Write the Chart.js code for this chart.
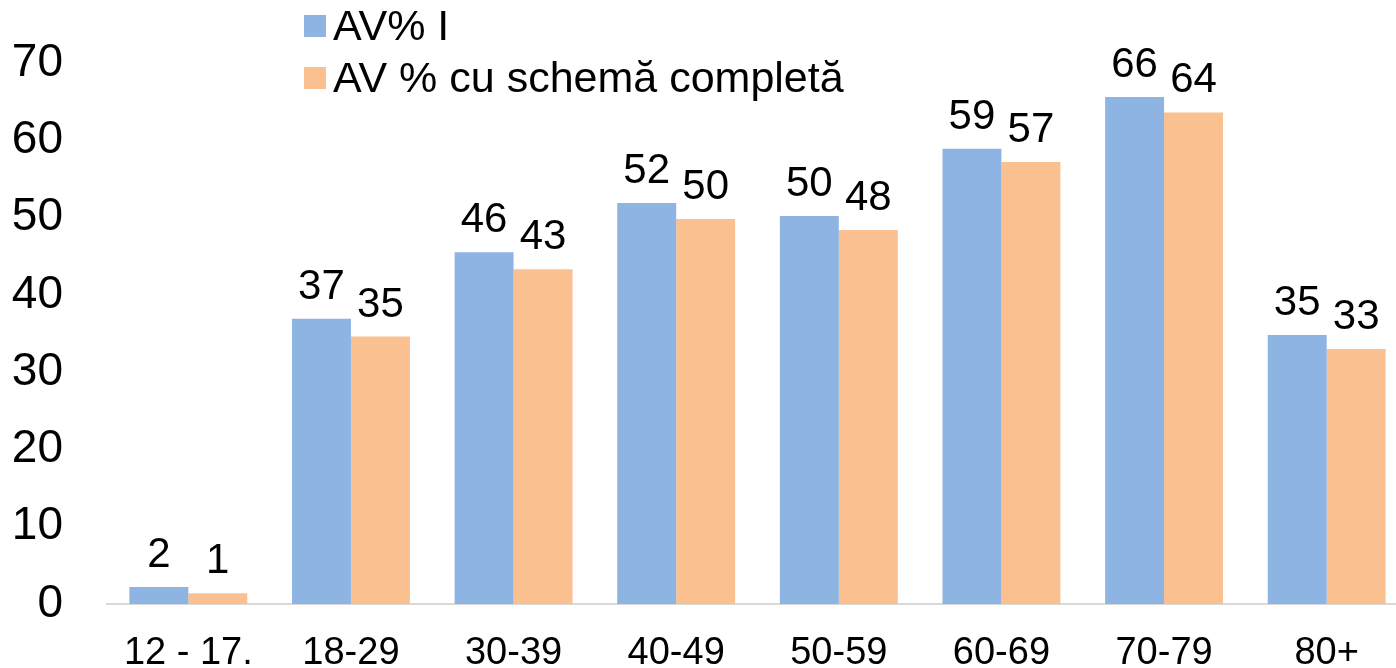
<!DOCTYPE html>
<html>
<head>
<meta charset="utf-8">
<script src="https://cdn.jsdelivr.net/npm/chart.js@4"></script>
<style>
  html, body { margin: 0; padding: 0; background: #fff; overflow: hidden; }
  /* the plot runs slightly past the right edge of the picture, as in the original */
  .wrap { width: 1408px; height: 668px; position: relative; }
</style>
</head>
<body>
<div class="wrap"><canvas id="avChart"></canvas></div>
<script>
// Chart data
const ageGroups = ["12 - 17.", "18-29", "30-39", "40-49", "50-59", "60-69", "70-79", "80+"];
const firstDose = [2.2, 36.9, 45.5, 51.9, 50.2, 58.9, 65.6, 34.8];
const fullScheme = [1.4, 34.6, 43.3, 49.8, 48.4, 57.2, 63.6, 33.0];
const seriesNames = ["AV% I", "AV % cu schemă completă"];
const seriesColors = ["#8EB4E3", "#FAC08F"];
const yTicks = [0, 10, 20, 30, 40, 50, 60, 70];

const FONT = "'Liberation Sans', Arial, sans-serif";

// value labels above each bar
const barLabels = {
    id: 'barLabels',
    afterDatasetsDraw(chart) {
        const ctx = chart.ctx;
        ctx.save();
        ctx.font = "42px " + FONT;
        ctx.fillStyle = "#000";
        ctx.textAlign = "center";
        ctx.textBaseline = "alphabetic";
        chart.data.datasets.forEach((ds, i) => {
            chart.getDatasetMeta(i).data.forEach((bar, j) => {
                ctx.fillText(Math.round(ds.data[j]), bar.x, bar.y - 20);
            });
        });
        ctx.restore();
    }
};

// legend drawn over the top of the plot, like the original
const topLegend = {
    id: 'topLegend',
    afterDraw(chart) {
        const ctx = chart.ctx;
        ctx.save();
        ctx.font = "43px " + FONT;
        ctx.textBaseline = "middle";
        chart.data.datasets.forEach((ds, i) => {
            const y = 26 + i * 52;
            ctx.fillStyle = ds.backgroundColor;
            ctx.fillRect(304, y - 11, 22, 22);
            ctx.fillStyle = "#000";
            ctx.fillText(ds.label, 333, y + 2);
        });
        ctx.restore();
    }
};

new Chart(document.getElementById('avChart'), {
    type: 'bar',
    data: {
        labels: ageGroups,
        datasets: [
            { label: seriesNames[0], data: firstDose, backgroundColor: seriesColors[0] },
            { label: seriesNames[1], data: fullScheme, backgroundColor: seriesColors[1] }
        ]
    },
    options: {
        responsive: true,
        maintainAspectRatio: false,
        animation: false,
        categoryPercentage: 0.725,
        barPercentage: 1,
        layout: { padding: { top: 63, right: 0, left: 0, bottom: 0 } },
        plugins: {
            legend: { display: false },
            tooltip: { enabled: false }
        },
        scales: {
            x: {
                grid: { display: false, drawTicks: false },
                border: { display: true, color: '#D9D9D9', width: 2 },
                ticks: {
                    color: '#000',
                    font: { family: FONT, size: 38 },
                    padding: 27,
                    maxRotation: 0,
                    autoSkip: false
                },
                afterFit: scale => { scale.height = 64; }
            },
            y: {
                min: 0,
                max: 70,
                afterBuildTicks: scale => { scale.ticks = yTicks.map(v => ({ value: v })); },
                grid: { display: false, drawTicks: false },
                border: { display: false },
                ticks: {
                    color: '#000',
                    font: { family: FONT, size: 46 },
                    padding: 44
                },
                // fixed width; drop the extra top/bottom padding the tick padding adds
                afterFit: scale => {
                    scale.width = 107;
                    scale.paddingTop = 0;
                    scale.paddingBottom = 0;
                }
            }
        }
    },
    plugins: [barLabels, topLegend]
});
</script>
</body>
</html>
